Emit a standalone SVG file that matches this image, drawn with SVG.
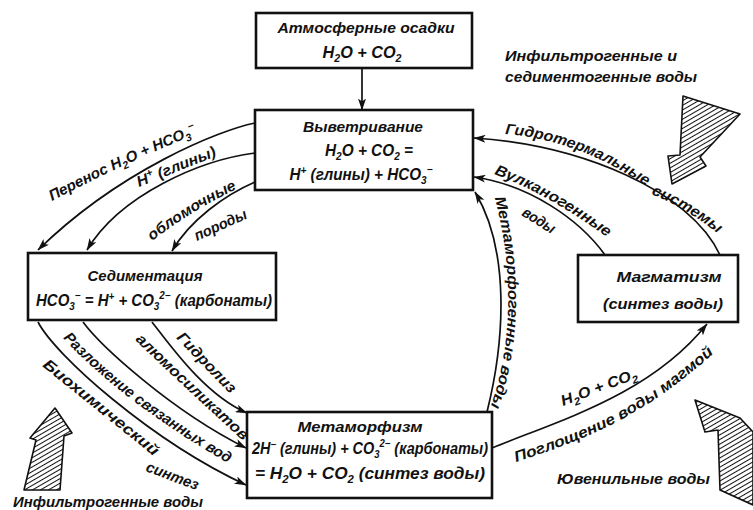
<svg xmlns="http://www.w3.org/2000/svg" width="753" height="510" viewBox="0 0 753 510">
<style>
text{font-family:"Liberation Sans",Arial,sans-serif;font-style:italic;font-weight:700;fill:#111;font-size:15px}
.bx{fill:#fff;stroke:#111;stroke-width:2.6}
.c{fill:none;stroke:#111;stroke-width:1.7;marker-end:url(#arr)}
.m{text-anchor:middle}
.s{font-size:10.5px}
.big{font-size:16px}
.ha{fill:url(#hatch);stroke:#111;stroke-width:1.6;stroke-linejoin:round}
</style>
<defs>
<marker id="arr" viewBox="0 0 12 8" refX="11.5" refY="4" markerWidth="12" markerHeight="8" markerUnits="userSpaceOnUse" orient="auto"><path d="M0,0 L12,4 L0,8 L3,4 z" fill="#111"/></marker>
<pattern id="hatch" patternUnits="userSpaceOnUse" width="4" height="4" patternTransform="rotate(60)"><rect width="4" height="4" fill="#fff"/><line x1="0" y1="0" x2="0" y2="4" stroke="#111" stroke-width="2"/></pattern>
<path id="pA" d="M52,201 Q130,160 214,127"/>
<path id="pB" d="M139,187 L226,152"/>
<path id="pC" d="M152,241 Q195,208 247,184"/>
<path id="pD" d="M197,241 L250,217"/>
<path id="pE" d="M176,338 L232,396"/>
<path id="pF" d="M135,340 Q184,387 240,438"/>
<path id="pG" d="M63,338 Q125,405 240,470"/>
<path id="pH" d="M42,366 L156,458"/>
<path id="pI" d="M145,471 L196,490"/>
<path id="pJ" d="M505,134 Q580,140 649,188"/>
<path id="pK" d="M651,194 Q690,210 722,237"/>
<path id="pL" d="M494,174 Q550,195 608,238"/>
<path id="pM" d="M521,215 L553,235"/>
<path id="pN" d="M494,195 C512,260 515,340 490,408"/>
<path id="pO" d="M563,406 L641,377"/>
<path id="pP" d="M516,462 C580,441 640,421 722,346"/>
</defs>
<rect width="753" height="510" fill="#fff"/>

<g id="connectors">
<path class="c" d="M362,68 L362,110"/>
<path class="c" d="M255,123 C220,130 120,170 38,250"/>
<path class="c" d="M255,153 C200,160 120,195 87,250"/>
<path class="c" d="M255,182 C225,195 190,220 172,251"/>
<path class="c" d="M152,322 C170,345 205,395 247,413"/>
<path class="c" d="M83,322 C100,345 170,410 246,448"/>
<path class="c" d="M38,322 C55,355 150,440 246,485"/>
<path class="c" d="M487,412 C505,340 510,250 475,192"/>
<path class="c" d="M720,255 C690,190 580,145 474,138"/>
<path class="c" d="M605,255 C580,220 530,185 474,177"/>
<path class="c" d="M492,448 C560,420 650,395 707,324"/>
</g>

<g id="labels">
<text><textPath href="#pA" textLength="160" lengthAdjust="spacingAndGlyphs">Перенос H<tspan class="s" dy="4">2</tspan><tspan dy="-4">O + HCO</tspan><tspan class="s" dy="4">3</tspan><tspan class="s" dy="-10">−</tspan></textPath></text>
<text><textPath href="#pB" textLength="84" lengthAdjust="spacingAndGlyphs">H<tspan class="s" dy="-6">+</tspan><tspan dy="6"> (глины)</tspan></textPath></text>
<text><textPath href="#pC" textLength="100" lengthAdjust="spacingAndGlyphs">обломочные</textPath></text>
<text><textPath href="#pD" textLength="56" lengthAdjust="spacingAndGlyphs">породы</textPath></text>
<text><textPath href="#pE" textLength="78" lengthAdjust="spacingAndGlyphs">Гидролиз</textPath></text>
<text><textPath href="#pF" textLength="148" lengthAdjust="spacingAndGlyphs">алюмосиликатов</textPath></text>
<text><textPath href="#pG" textLength="208" lengthAdjust="spacingAndGlyphs">Разложение связанных вод</textPath></text>
<text><textPath href="#pH" textLength="144" lengthAdjust="spacingAndGlyphs">Биохимический</textPath></text>
<text><textPath href="#pI" textLength="55" lengthAdjust="spacingAndGlyphs">синтез</textPath></text>
<text><textPath href="#pJ" textLength="152" lengthAdjust="spacingAndGlyphs">Гидротермальные</textPath></text>
<text><textPath href="#pK" textLength="78" lengthAdjust="spacingAndGlyphs">системы</textPath></text>
<text><textPath href="#pL" textLength="130" lengthAdjust="spacingAndGlyphs">Вулканогенные</textPath></text>
<text><textPath href="#pM" textLength="36" lengthAdjust="spacingAndGlyphs">воды</textPath></text>
<text><textPath href="#pN" startOffset="3" textLength="212" lengthAdjust="spacingAndGlyphs">Метаморфогенные воды</textPath></text>
<text><textPath href="#pO" textLength="80" lengthAdjust="spacingAndGlyphs">H<tspan class="s" dy="4">2</tspan><tspan dy="-4">O + CO</tspan><tspan class="s" dy="4">2</tspan></textPath></text>
<text><textPath href="#pP" textLength="228" lengthAdjust="spacingAndGlyphs">Поглощение воды магмой</textPath></text>
<text x="505" y="61" textLength="172" lengthAdjust="spacingAndGlyphs">Инфильтрогенные и</text>
<text x="505" y="82" textLength="192" lengthAdjust="spacingAndGlyphs">седиментогенные воды</text>
<text x="13" y="507" textLength="190" lengthAdjust="spacingAndGlyphs">Инфильтрогенные воды</text>
<text x="557" y="484" textLength="153" lengthAdjust="spacingAndGlyphs">Ювенильные воды</text>
</g>

<g id="hatched-arrows">
<path class="ha" d="M683,96 L740,114 L700,157 L706,166 L672,184 L668,156 L680,155 Z"/>
<path class="ha" d="M24,490 L36,440 L30,438 L55,408 L72,433 L64,436 L60,490 Z"/>
<path class="ha" d="M695,400 L740,418 L753,432 L753,505 L720,490 L718,430 L705,432 Z"/>
</g>

<g id="n-atm">
<rect class="bx" x="256" y="13" width="216" height="55"/>
<text class="m" x="366" y="33" textLength="177" lengthAdjust="spacingAndGlyphs">Атмосферные осадки</text>
<text class="m big" x="362" y="58" textLength="79" lengthAdjust="spacingAndGlyphs">H<tspan class="s" dy="4">2</tspan><tspan dy="-4">O + CO</tspan><tspan class="s" dy="4">2</tspan></text>
</g>
<g id="n-weather">
<rect class="bx" x="255" y="110" width="218" height="80"/>
<text class="m" x="363" y="132" textLength="120" lengthAdjust="spacingAndGlyphs">Выветривание</text>
<text class="m big" x="369" y="156" textLength="88" lengthAdjust="spacingAndGlyphs">H<tspan class="s" dy="4">2</tspan><tspan dy="-4">O + CO</tspan><tspan class="s" dy="4">2</tspan><tspan dy="-4"> =</tspan></text>
<text class="m big" x="361" y="180" textLength="143" lengthAdjust="spacingAndGlyphs">H<tspan class="s" dy="-6">+</tspan><tspan dy="6"> (глины) + HCO</tspan><tspan class="s" dy="4">3</tspan><tspan class="s" dy="-11">−</tspan></text>
</g>
<g id="n-sed">
<rect class="bx" x="28" y="253" width="248" height="67"/>
<text class="m" x="145" y="281" textLength="115" lengthAdjust="spacingAndGlyphs">Седиментация</text>
<text class="m big" x="154" y="306" textLength="236" lengthAdjust="spacingAndGlyphs">HCO<tspan class="s" dy="4">3</tspan><tspan class="s" dy="-11">−</tspan><tspan dy="7"> = H</tspan><tspan class="s" dy="-6">+</tspan><tspan dy="6"> + CO</tspan><tspan class="s" dy="4">3</tspan><tspan class="s" dy="-11">2−</tspan><tspan dy="7"> (карбонаты)</tspan></text>
</g>
<g id="n-meta">
<rect class="bx" x="247" y="412" width="245" height="86"/>
<text class="m" x="360" y="432" textLength="125" lengthAdjust="spacingAndGlyphs">Метаморфизм</text>
<text class="m big" x="370" y="454" textLength="236" lengthAdjust="spacingAndGlyphs">2H<tspan class="s" dy="-6">−</tspan><tspan dy="6"> (глины) + CO</tspan><tspan class="s" dy="4">3</tspan><tspan class="s" dy="-11">2−</tspan><tspan dy="7"> (карбонаты)</tspan></text>
<text class="m big" x="370" y="479" textLength="230" lengthAdjust="spacingAndGlyphs">= H<tspan class="s" dy="4">2</tspan><tspan dy="-4">O + CO</tspan><tspan class="s" dy="4">2</tspan><tspan dy="-4"> (синтез воды)</tspan></text>
</g>
<g id="n-magma">
<rect class="bx" x="578" y="255" width="160" height="67"/>
<text class="m" x="669" y="282" textLength="105" lengthAdjust="spacingAndGlyphs">Магматизм</text>
<text class="m" x="663" y="309" textLength="120" lengthAdjust="spacingAndGlyphs">(синтез воды)</text>
</g>
</svg>
